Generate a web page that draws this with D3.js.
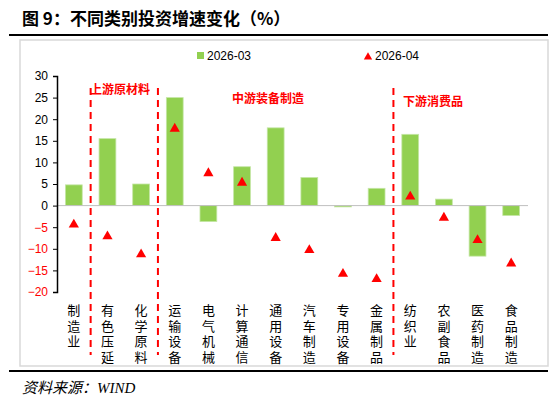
<!DOCTYPE html>
<html><head><meta charset="utf-8">
<script src="https://cdn.jsdelivr.net/npm/d3@7"></script>
<style>body{margin:0;background:#fff;font-family:"Noto Sans CJK SC",sans-serif}</style>
</head><body><svg id="c" width="550" height="409"></svg>
<script>
// Data.
const categories = ["制造业","有色压延","化学原料","运输设备","电气机械","计算通信","通用设备","汽车制造","专用设备","金属制品","纺织业","农副食品","医药制造","食品制造"];
const mar = [4.8, 15.5, 5, 25, -3.7, 9, 18, 6.5, -0.3, 4, 16.5, 1.5, -11.7, -2.3];
const apr = [-4.4, -7.1, -11.3, 17.8, 7.5, 5.3, -7.5, -10.3, -15.8, -17, 2.1, -2.8, -8, -13.4];
const yTicks = [30, 25, 20, 15, 10, 5, 0, -5, -10, -15, -20];
const groupNames = ["上游原材料", "中游装备制造", "下游消费品"];
const dividers = [1, 3, 10];

const svg = d3.select("#c");
const plotLeft = 57, plotRight = 528, plotTop = 76, plotBottom = 292;

// Title and frame.
svg.append("text").attr("x", 22).attr("y", 25).attr("font-size", 17).attr("font-weight", "bold")
    .attr("font-family", "Noto Sans CJK SC").text("图 9：不同类别投资增速变化（%）");
svg.append("line").attr("x1", 9).attr("x2", 548).attr("y1", 35).attr("y2", 35).attr("stroke", "#000").attr("stroke-width", 2);
svg.append("rect").attr("x", 20).attr("y", 40).attr("width", 528).attr("height", 326)
    .attr("fill", "none").attr("stroke", "#d9d9d9").attr("stroke-width", 1.5);
svg.append("line").attr("x1", 9).attr("x2", 548).attr("y1", 371).attr("y2", 371).attr("stroke", "#000").attr("stroke-width", 2);
svg.append("text").attr("x", 22).attr("y", 393).attr("font-size", 15).attr("font-style", "italic")
    .attr("font-family", "Liberation Serif, Noto Sans CJK SC").text("资料来源：WIND");

// Scales.
const x = d3.scaleBand().domain(d3.range(categories.length)).range([plotLeft, plotRight]).paddingInner(0.5).paddingOuter(0.25);
const step = x.step();
const y = d3.scaleLinear().domain([-20, 30]).range([plotBottom, plotTop]);

// Bars.
svg.selectAll(".bar").data(mar).enter().append("rect")
    .attr("x", (d, i) => x(i))
    .attr("y", d => y(Math.max(0, d)))
    .attr("width", x.bandwidth())
    .attr("height", d => Math.abs(y(d) - y(0)))
    .attr("fill", "#92d050").attr("stroke", "#c5e6a6").attr("stroke-width", 0.8);

// Zero line.
svg.append("line").attr("x1", plotLeft).attr("x2", plotRight).attr("y1", y(0)).attr("y2", y(0))
    .attr("stroke", "#bfbfbf").attr("stroke-width", 1);

// Y axis.
const yAxis = svg.append("g").attr("transform", `translate(${plotLeft},0)`)
    .call(d3.axisLeft(y).tickValues(yTicks).tickSize(4).tickPadding(5));
yAxis.select(".domain").attr("stroke", "#000").attr("stroke-width", 1.5);
yAxis.selectAll(".tick line").attr("stroke", "#000");
yAxis.selectAll("text").attr("font-size", 12).attr("font-family", "Liberation Sans, Arial")
    .attr("fill", d => d < 0 ? "#ff0000" : "#000");

// Triangles.
const tri = d3.symbol().type(d3.symbolTriangle).size(45);
svg.selectAll(".tri").data(apr).enter().append("path")
    .attr("d", tri)
    .attr("transform", (d, i) => `translate(${x(i) + x.bandwidth() / 2},${y(d)})`)
    .attr("fill", "#ff0000");

// Dividers.
dividers.forEach(k => {
    const px = x(k) - (step - x.bandwidth()) / 2;
    svg.append("line").attr("x1", px).attr("x2", px).attr("y1", 88).attr("y2", 355)
        .attr("stroke", "#ff0000").attr("stroke-width", 2).attr("stroke-dasharray", "7,5");
});

// Group labels.
const groupX = [120, 268, 433], groupY = [94, 103, 106];
groupNames.forEach((g, i) => {
    svg.append("text").attr("x", groupX[i]).attr("y", groupY[i])
        .attr("text-anchor", "middle").attr("font-size", 12).attr("font-weight", "bold")
        .attr("fill", "#ff0000").text(g);
});

// Category labels, vertical.
categories.forEach((c, i) => {
    const cx = x(i) + x.bandwidth() / 2;
    Array.from(c).forEach((ch, j) => {
        svg.append("text").attr("x", cx).attr("y", 315 + j * 15.5)
            .attr("text-anchor", "middle").attr("font-size", 13).attr("fill", "#000").text(ch);
    });
});

// Legend.
svg.append("rect").attr("x", 197).attr("y", 52).attr("width", 7).attr("height", 7).attr("fill", "#92d050");
svg.append("text").attr("x", 207).attr("y", 60).attr("font-size", 12).attr("font-family", "Liberation Sans, Arial").text("2026-03");
svg.append("path").attr("d", d3.symbol().type(d3.symbolTriangle).size(30))
    .attr("transform", "translate(368,57)").attr("fill", "#ff0000");
svg.append("text").attr("x", 375).attr("y", 60).attr("font-size", 12).attr("font-family", "Liberation Sans, Arial").text("2026-04");
</script></body></html>
